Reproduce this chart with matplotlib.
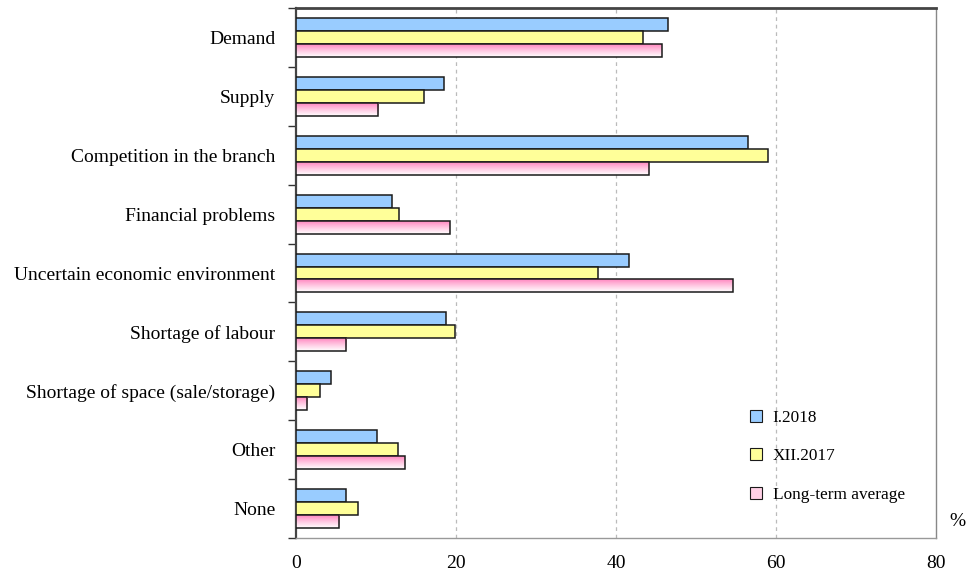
import numpy as np
import matplotlib
matplotlib.use("Agg")
import matplotlib.pyplot as plt
from matplotlib.patches import Patch
from matplotlib.colors import LinearSegmentedColormap

categories = [
    "Demand",
    "Supply",
    "Competition in the branch",
    "Financial problems",
    "Uncertain economic environment",
    "Shortage of labour",
    "Shortage of space (sale/storage)",
    "Other",
    "None",
]
series_names = ["I.2018", "XII.2017", "Long-term average"]
jan_2018 = [46.5, 18.5, 56.5, 12.0, 41.6, 18.8, 4.4, 10.1, 6.3]
dec_2017 = [43.4, 16.0, 59.0, 12.9, 37.7, 19.9, 3.0, 12.8, 7.8]
long_term = [45.7, 10.3, 44.1, 19.2, 54.6, 6.3, 1.4, 13.6, 5.4]
x_ticks = [0, 20, 40, 60, 80]

plt.rcParams["font.family"] = ["Liberation Serif", "DejaVu Serif"]

fig = plt.figure(figsize=(9.71, 5.72), dpi=100)
ax = fig.add_axes([296 / 971, 1 - 538 / 572, 640 / 971, 530 / 572])

y = np.arange(len(categories))
h = 0.22
blue = "#99ccff"
yellow = "#ffff99"
pink_top = "#ff88c0"
edge = "#1a1a1a"

ax.barh(y - h, jan_2018, height=h, color=blue, edgecolor=edge, linewidth=1.1, zorder=3)
ax.barh(y, dec_2017, height=h, color=yellow, edgecolor=edge, linewidth=1.1, zorder=3)
pink_bars = ax.barh(y + h, long_term, height=h, color="none", edgecolor=edge,
                    linewidth=1.1, zorder=4)

# vertical pink-to-white gradient inside each long-term bar
grad_cmap = LinearSegmentedColormap.from_list("pinkfade", [pink_top, "#ffc8e2", "#ffffff"])
grad = np.linspace(0, 1, 64).reshape(-1, 1)
for bar in pink_bars:
    x0, yb = bar.get_x(), bar.get_y()
    w, hh = bar.get_width(), bar.get_height()
    im = ax.imshow(grad, cmap=grad_cmap, aspect="auto", interpolation="bilinear",
                   extent=(x0, x0 + w, yb + hh, yb), origin="upper", zorder=3)
    im.set_clip_path(bar)

ax.set_xlim(0, 80)
ax.set_ylim(len(categories) - 0.5, -0.5)
ax.set_xticks(x_ticks)
ax.set_xticklabels([str(t) for t in x_ticks], fontsize=14)
ax.set_yticks(y)
ax.set_yticklabels(categories, fontsize=14)
ax.set_yticks(np.arange(-0.5, len(categories)), minor=True)
ax.tick_params(axis="y", which="major", length=0, pad=15)
ax.tick_params(axis="y", which="minor", length=6, width=1.0, color="#333333", direction="out")
ax.tick_params(axis="x", length=0, pad=12)

for gx in x_ticks[1:-1]:
    ax.axvline(gx, color="#bbbbbb", linestyle=(0, (3, 3)), linewidth=0.9, zorder=1)

ax.spines["top"].set_color("#444444")
ax.spines["top"].set_linewidth(2.0)
ax.spines["left"].set_color("#444444")
ax.spines["left"].set_linewidth(1.6)
ax.spines["right"].set_color("#888888")
ax.spines["right"].set_linewidth(1.0)
ax.spines["bottom"].set_color("#999999")
ax.spines["bottom"].set_linewidth(1.0)

handles = [
    Patch(facecolor=blue, edgecolor=edge, linewidth=0.8),
    Patch(facecolor=yellow, edgecolor=edge, linewidth=0.8),
    Patch(facecolor="#ffd0e6", edgecolor=edge, linewidth=0.8),
]
ax.legend(handles, series_names, loc="upper left", bbox_to_anchor=(0.699, 0.255),
          frameon=False, fontsize=12.4, handlelength=0.7, handleheight=0.7,
          handletextpad=0.6, labelspacing=1.3, borderaxespad=0)

fig.text(957 / 971, 1 - 522 / 572, "%", fontsize=14, ha="center", va="center")

fig.savefig("out.png", dpi=100)
